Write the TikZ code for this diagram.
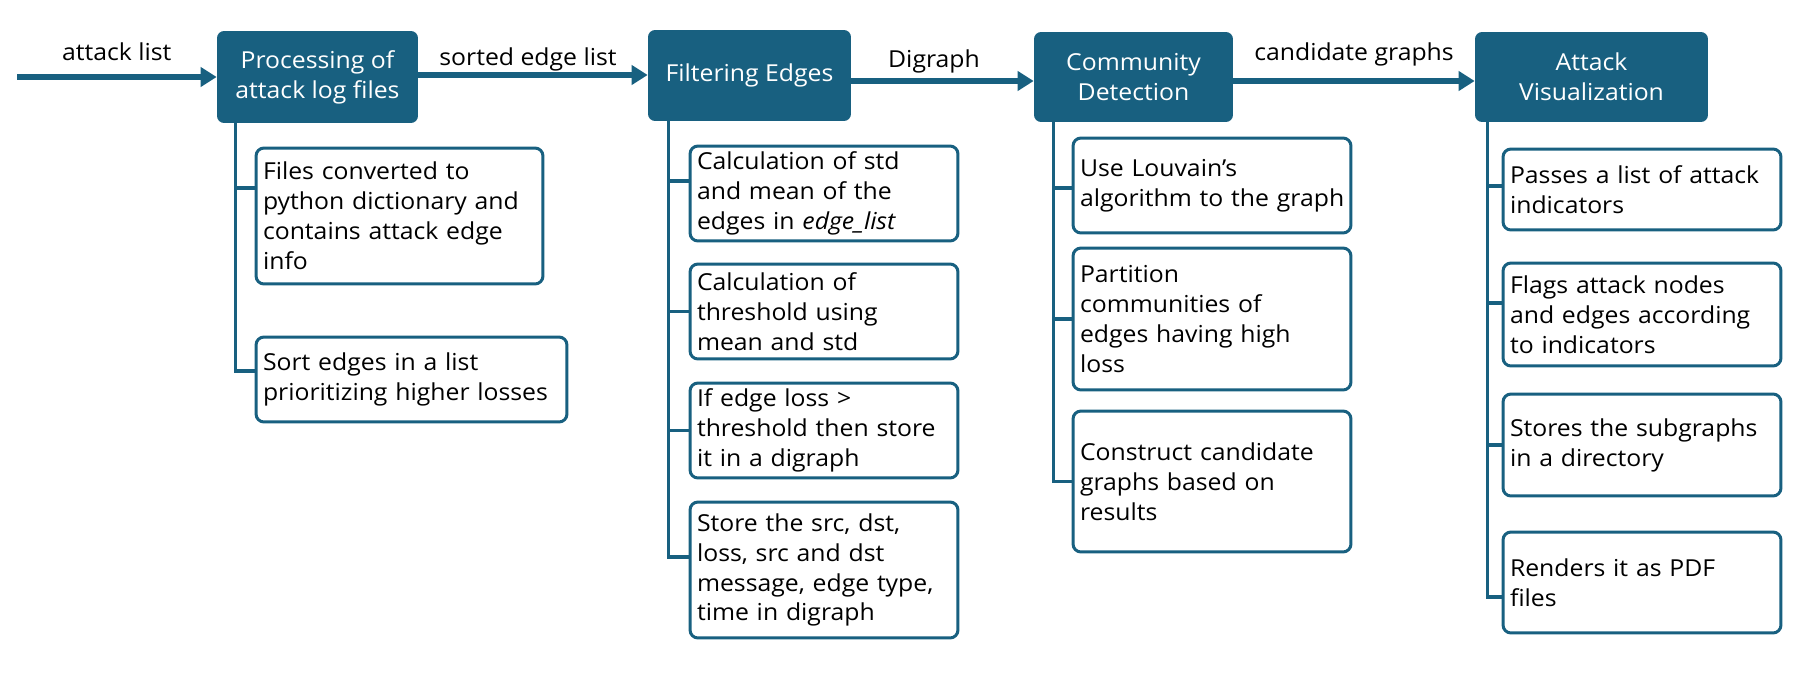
\documentclass[tikz,border=0pt]{standalone}
\usepackage{fontspec}
\setmainfont{Open Sans}[FakeStretch=1.06]
\usetikzlibrary{arrows.meta}
\definecolor{steel}{RGB}{24,96,128}

\begin{document}
\begin{tikzpicture}[x=0.02cm,y=-0.02cm,
  hdr/.style={rectangle,rounded corners=0.14cm,fill=steel,text=white,align=center,inner sep=0pt,font=\fontsize{13.3}{17}\selectfont},
  sub/.style={rectangle,rounded corners=0.16cm,draw=steel,line width=0.06cm,fill=white,align=left,inner xsep=0.14cm,inner ysep=0pt,font=\fontsize{13.3}{17}\selectfont},
  flow/.style={draw=steel,line width=0.11cm,-{Triangle[length=0.32cm,width=0.38cm]}},
  branch/.style={draw=steel,line width=0.065cm},
  lbl/.style={anchor=base,inner sep=0pt,font=\fontsize{13.3}{17}\selectfont}]
  \useasboundingbox (0,0) rectangle (1803,690);

  \node[hdr,minimum width=4.02cm,minimum height=1.84cm] (1) at (317.5,77) {Processing of\\attack log files};
  \node[hdr,minimum width=4.06cm,minimum height=1.82cm] (2) at (749.5,75.5) {Filtering Edges};
  \node[hdr,minimum width=3.98cm,minimum height=1.8cm] (3) at (1133.5,77) {Community\\Detection};
  \node[hdr,minimum width=4.66cm,minimum height=1.8cm] (4) at (1591.5,77) {Attack\\Visualization};

  \node[sub,text width=5.46cm,minimum height=2.72cm] (1a) at (399.5,216) {Files converted to\\python dictionary and\\contains attack edge\\info};
  \node[sub,text width=5.94cm,minimum height=1.7cm] (1b) at (411.5,379.5) {Sort edges in a list\\prioritizing higher losses};

  \node[sub,text width=5.08cm,minimum height=1.9cm] (2a) at (824,193.5) {Calculation of std\\and mean of the\\edges in \textit{edge\_list}};
  \node[sub,text width=5.08cm,minimum height=1.9cm] (2b) at (824,311.5) {Calculation of\\threshold using\\mean and std};
  \node[sub,text width=5.08cm,minimum height=1.9cm] (2c) at (824,430.5) {If edge loss >\\threshold then store\\it in a digraph};
  \node[sub,text width=5.08cm,minimum height=2.72cm] (2d) at (824,570) {Store the src, dst,\\loss, src and dst\\message, edge type,\\time in digraph};

  \node[sub,text width=5.28cm,minimum height=1.9cm] (3a) at (1212,185.5) {Use Louvain’s\\\mbox{algorithm to the graph}};
  \node[sub,text width=5.28cm,minimum height=2.84cm] (3b) at (1212,319) {Partition\\communities of\\edges having high\\loss};
  \node[sub,text width=5.28cm,minimum height=2.82cm] (3c) at (1212,481.5) {Construct candidate\\graphs based on\\results};

  \node[sub,text width=5.28cm,minimum height=1.62cm] (4a) at (1642,189.5) {Passes a list of attack\\indicators};
  \node[sub,text width=5.28cm,minimum height=2.06cm] (4b) at (1642,314.5) {Flags attack nodes\\and edges according\\to indicators};
  \node[sub,text width=5.28cm,minimum height=2.04cm] (4c) at (1642,445) {Stores the subgraphs\\in a directory};
  \node[sub,text width=5.28cm,minimum height=2.02cm] (4d) at (1642,582.5) {Renders it as PDF\\files};

  \coordinate (in) at (17,77);
  \draw[flow] (in) -- node[lbl,yshift=0.34cm] {attack list} (1);
  \draw[flow] ([yshift=0.04cm]1.east) -- node[lbl,yshift=0.2cm,xshift=-0.1cm] {sorted edge list} ([yshift=0.04cm]1.east -| 2.west);
  \draw[flow] ([yshift=-0.08cm]3.west -| 2.east) -- node[lbl,yshift=0.28cm,xshift=-0.17cm] {Digraph} ([yshift=-0.08cm]3.west);
  \draw[flow] ([yshift=-0.08cm]3.east) -- node[lbl,yshift=0.42cm] {candidate graphs} ([yshift=-0.08cm]4.west);

  \draw[branch] ([xshift=0.38cm]1.south west) |- ([yshift=0.56cm]1a.west);
  \draw[branch] ([xshift=0.38cm]1.south west) |- ([yshift=0.17cm]1b.west);

  \draw[branch] ([xshift=0.42cm]2.south west) |- ([yshift=0.25cm]2a.west);
  \draw[branch] ([xshift=0.42cm]2.south west) |- (2b.west);
  \draw[branch] ([xshift=0.42cm]2.south west) |- (2c.west);
  \draw[branch] ([xshift=0.42cm]2.south west) |- ([yshift=0.26cm]2d.west);

  \draw[branch] ([xshift=0.4cm]3.south west) |- ([yshift=-0.05cm]3a.west);
  \draw[branch] ([xshift=0.4cm]3.south west) |- (3b.west);
  \draw[branch] ([xshift=0.4cm]3.south west) |- (3c.west);

  \draw[branch] ([xshift=0.26cm]4.south west) |- ([yshift=0.07cm]4a.west);
  \draw[branch] ([xshift=0.26cm]4.south west) |- ([yshift=0.23cm]4b.west);
  \draw[branch] ([xshift=0.26cm]4.south west) |- (4c.west);
  \draw[branch] ([xshift=0.26cm]4.south west) |- ([yshift=-0.29cm]4d.west);
\end{tikzpicture}
\end{document}
